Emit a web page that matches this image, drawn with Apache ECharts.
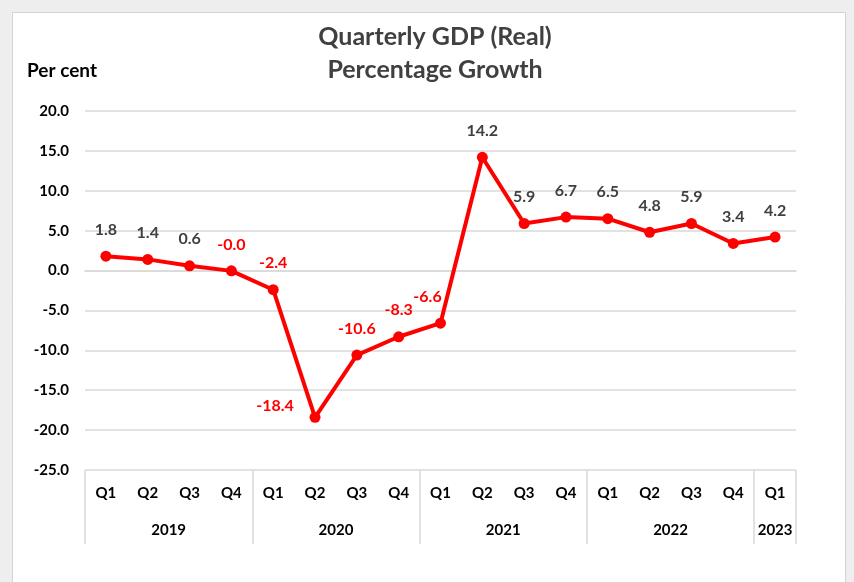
<!DOCTYPE html>
<html>
<head>
<meta charset="utf-8">
<script src="https://cdn.jsdelivr.net/npm/echarts@6/dist/echarts.min.js"></script>
<style>
html,body{margin:0;padding:0;background:#eeeeee;}
#chart{width:854px;height:582px;}
</style>
</head>
<body>
<div id="chart"></div>
<script>
// ---- data ----
const quarters = ['Q1','Q2','Q3','Q4','Q1','Q2','Q3','Q4','Q1','Q2','Q3','Q4','Q1','Q2','Q3','Q4','Q1'];
const years = ['2019','2020','2021','2022','2023'];
const quartersPerYear = [4,4,4,4,1];
const gdpGrowth = [1.8,1.4,0.6,-0.04,-2.4,-18.4,-10.6,-8.3,-6.6,14.2,5.9,6.7,6.5,4.8,5.9,3.4,4.2];
const valueLabels = ['1.8','1.4','0.6','-0.0','-2.4','-18.4','-10.6','-8.3','-6.6','14.2','5.9','6.7','6.5','4.8','5.9','3.4','4.2'];
const yTicks = {min:-25, max:20, interval:5};

// ---- styling (not data) ----
const FONT = 'Lato, "Open Sans", sans-serif';
const RED = '#ff0000';
const DARK = '#404040';
const GRID = '#d9d9d9';
const redLabelIdx = [3,4,5,6,7,8];
const labelOffsets = {5:[-40,15], 8:[-13,0]};

// build half-quarter year axis (35 slots, boundaryGap false)
const totalQ = quarters.length;
const yearSlots = new Array(totalQ*2+1).fill('');
const boundarySlots = [0];
let q = 0;
years.forEach((y,i)=>{
  const n = quartersPerYear[i];
  const center = q + n/2;
  yearSlots[Math.round(center*2)] = y;
  q += n;
  boundarySlots.push(q*2);
});

const seriesData = gdpGrowth.map((v,i)=>{
  const isRed = redLabelIdx.indexOf(i) >= 0;
  const off = labelOffsets[i] || [0,0];
  return {
    value: v,
    label: {
      color: isRed ? RED : DARK,
      offset: off
    }
  };
});

const chart = echarts.init(document.getElementById('chart'), null, {renderer:'canvas'});
chart.setOption({
  backgroundColor: '#eeeeee',
  animation: false,
  graphic: [
    {type:'rect', z:-10, shape:{x:12.5,y:12.5,width:833,height:600}, style:{fill:'#ffffff', stroke:'#d4d4d4', lineWidth:1}},
    {type:'text', x:27, y:71, style:{text:'Per cent', font:'bold 19px '+FONT, fill:'#000000', textVerticalAlign:'middle'}},
    {type:'text', x:435, y:37, style:{text:'Quarterly GDP (Real)', font:'bold 25px '+FONT, fill:DARK, textAlign:'center', textVerticalAlign:'middle'}},
    {type:'text', x:435, y:70, style:{text:'Percentage Growth', font:'bold 25px '+FONT, fill:DARK, textAlign:'center', textVerticalAlign:'middle'}}
  ],
  grid: {left:85, right:58, top:111, bottom:112, containLabel:false},
  xAxis: [
    {
      type:'category', data: quarters, boundaryGap:true, position:'bottom',
      axisLine:{show:true, lineStyle:{color:GRID, width:1.5}},
      axisTick:{show:false},
      axisLabel:{interval:0, margin:16, color:'#000000', fontFamily:FONT, fontWeight:'bold', fontSize:15},
      splitLine:{show:false}
    },
    {
      type:'category', data: yearSlots, boundaryGap:false, position:'bottom',
      axisLine:{show:false},
      axisTick:{show:true, length:74, interval:(idx)=>boundarySlots.indexOf(idx)>=0, lineStyle:{color:GRID, width:1.5}},
      axisLabel:{interval:0, margin:53, color:'#000000', fontFamily:FONT, fontWeight:'bold', fontSize:15},
      splitLine:{show:false}
    }
  ],
  yAxis: {
    type:'value', min:yTicks.min, max:yTicks.max, interval:yTicks.interval,
    axisLine:{show:false}, axisTick:{show:false},
    axisLabel:{margin:16, color:'#000000', fontFamily:FONT, fontWeight:'bold', fontSize:15, formatter:(v)=>v.toFixed(1)},
    splitLine:{show:true, lineStyle:{color:GRID, width:1.5}}
  },
  series: [{
    type:'line', xAxisIndex:0, data: seriesData,
    symbol:'circle', symbolSize:11,
    lineStyle:{color:RED, width:4},
    itemStyle:{color:RED},
    label:{show:true, position:'top', distance:13, fontFamily:FONT, fontWeight:'bold', fontSize:16,
      formatter:(p)=>valueLabels[p.dataIndex]}
  }]
});
</script>
</body>
</html>
